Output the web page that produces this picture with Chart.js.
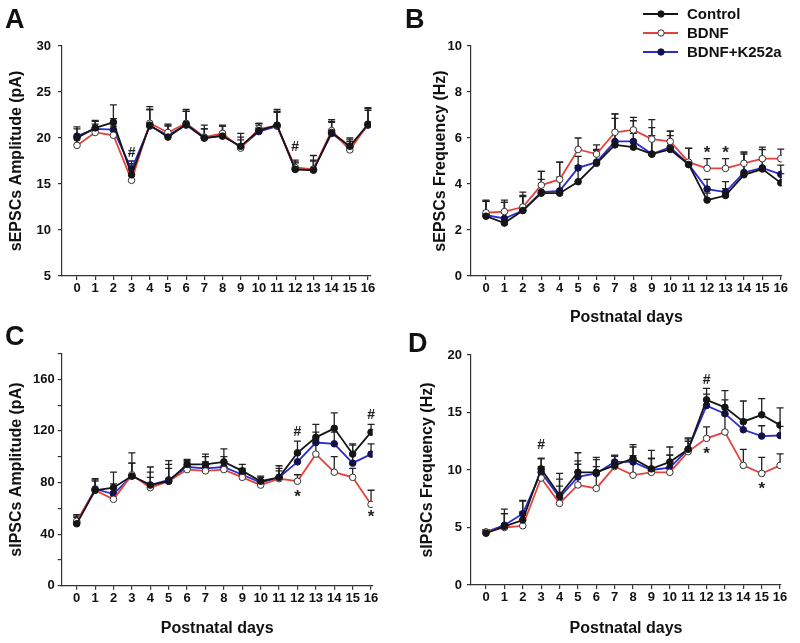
<!DOCTYPE html>
<html><head><meta charset="utf-8">
<script src="https://cdn.jsdelivr.net/npm/chart.js@4/dist/chart.umd.min.js"></script>
<style>
body{margin:0;background:#fff;width:800px;height:643px;position:relative;overflow:hidden;}
canvas{position:absolute;}
.lbl{position:absolute;font:bold 27px "Liberation Sans",Arial,sans-serif;color:#111;line-height:1;}
</style></head><body>
<canvas id="cA" width="400" height="320" style="left:0;top:0"></canvas>
<canvas id="cB" width="400" height="330" style="left:400px;top:0"></canvas>
<canvas id="cC" width="400" height="323" style="left:0;top:320px"></canvas>
<canvas id="cD" width="400" height="323" style="left:400px;top:320px"></canvas>
<div class="lbl" style="left:5px;top:6px">A</div>
<div class="lbl" style="left:405px;top:6px">B</div>
<div class="lbl" style="left:5px;top:323px">C</div>
<div class="lbl" style="left:408px;top:330px">D</div>
<script>
const days = [0,1,2,3,4,5,6,7,8,9,10,11,12,13,14,15,16];
const seriesNames = ['Control','BDNF','BDNF+K252a'];

// Panel A: sEPSCs amplitude (pA)
const ctrlA = [20.0,21.1,21.7,16.0,21.4,20.1,21.5,20.0,20.2,19.1,20.8,21.4,16.6,16.5,20.6,19.1,21.5];
const bdnfA = [19.2,20.6,20.3,15.4,21.6,20.6,21.6,20.1,20.5,18.9,21.0,21.3,16.8,16.6,20.8,18.7,21.5];
const kA    = [20.2,21.0,20.9,16.6,21.3,20.3,21.4,20.0,20.3,19.0,20.7,21.3,16.6,16.6,20.5,19.0,21.4];
const ctrlAErr = [1.2,0.8,1.9,1.2,2.0,1.3,1.6,1.4,1.2,1.4,0.8,1.7,1.0,1.6,1.4,0.9,1.8];
const bdnfAErr = [1.0,0.9,1.0,1.0,1.5,0.9,1.3,0.9,0.8,0.9,0.6,1.6,0.6,0.9,1.0,0.9,1.7];
const kAErr    = [0.8,0.8,1.2,0.9,1.8,1.0,1.5,1.0,1.0,1.1,0.7,1.5,0.7,1.0,1.2,0.8,1.6];
const yTicksA = [5,10,15,20,25,30];
const marksA = [{x:3,y:18.3,s:'#'},{x:12,y:19.0,s:'#'}];

// Panel B: sEPSCs frequency (Hz)
const ctrlB = [2.6,2.3,2.85,3.6,3.6,4.1,4.9,5.7,5.6,5.3,5.5,4.85,3.3,3.5,4.4,4.65,4.05];
const bdnfB = [2.75,2.8,3.0,3.95,4.2,5.5,5.3,6.25,6.35,5.95,5.85,4.95,4.68,4.68,4.9,5.1,5.1];
const kB    = [2.65,2.5,2.85,3.65,3.7,4.7,4.95,5.85,5.85,5.3,5.6,4.85,3.78,3.65,4.5,4.7,4.42];
const ctrlBErr = [0.7,0.9,0.6,0.6,0.7,0.7,0.6,1.35,0.6,1.5,0.6,0.7,0.3,0.3,0.9,0.5,0.4];
const bdnfBErr = [0.5,0.5,0.5,0.6,0.75,0.5,0.4,0.8,0.55,0.5,0.45,0.6,0.42,0.42,0.5,0.5,0.42];
const kBErr    = [0.6,0.7,0.8,0.9,1.25,0.5,0.5,1.0,0.9,0.8,0.7,0.7,0.42,0.45,0.85,0.8,0.4];
const yTicksB = [0,2,4,6,8,10];
const marksB = [{x:12,y:5.45,s:'*'},{x:13,y:5.45,s:'*'}];

// Panel C: sIPSCs amplitude (pA)
const ctrlC = [48,74,76,85,78,81,94,94,96,89,81,84,103,115,122,102,119];
const bdnfC = [50,74,67,86,76,81,90,89,90,84,78,83,81,102,88,84,63];
const kC    = [49,75,71,85,78,82,92,91,92,86,80,84,96,111,110,95,102];
const ctrlCErr = [6,8,12,18,14,16,4,8,10,5,4,9,9,10,12,8,6];
const bdnfCErr = [5,7,6,9,8,10,6,7,6,5,4,6,5,11,12,7,11];
const kCErr    = [4,8,8,10,10,12,5,9,8,5,4,7,6,8,9,14,8];
const yTicksC = [0,20,40,60,80,100,120,140,160,180];
const yLabelsC = [0,40,80,120,160];
const marksC = [{x:12,y:119,s:'#'},{x:12,y:71,s:'*'},{x:16,y:132,s:'#'},{x:16,y:55,s:'*'}];

// Panel D: sIPSCs frequency (Hz)
const ctrlD = [4.5,5.1,5.65,10.1,7.8,9.8,9.8,10.4,11.0,10.1,10.7,11.8,16.1,15.45,14.2,14.8,13.9];
const bdnfD = [4.6,5.0,5.15,9.3,7.1,8.7,8.4,10.3,9.55,9.8,9.8,11.6,12.75,13.3,10.4,9.7,10.4];
const kD    = [4.6,5.2,6.2,9.8,7.6,9.4,9.7,10.7,10.7,10.0,10.2,11.8,15.6,14.9,13.5,12.95,13.0];
const ctrlDErr = [0.3,1.5,1.7,0.9,1.9,1.7,1.3,0.8,1.2,1.6,1.3,1.0,1.0,1.45,1.8,1.4,1.5];
const bdnfDErr = [0.2,1.2,1.2,1.0,1.5,1.8,1.9,0.9,1.7,1.2,1.5,0.9,1.0,1.5,1.4,1.4,1.0];
const kDErr    = [0.2,1.0,1.1,1.2,1.6,1.4,1.2,0.6,1.3,1.0,1.1,0.9,1.0,1.2,0.9,0.9,0.8];
const yTicksD = [0,5,10,15,20];
const marksD = [{x:3,y:12.2,s:'#'},{x:12,y:17.8,s:'#'},{x:12,y:11.6,s:'*'},{x:15,y:8.6,s:'*'}];

Chart.defaults.font.family = '"Liberation Sans", Arial, sans-serif';
Chart.defaults.color = '#111';

const styles = [
  {borderColor:'#151515', pointBackgroundColor:'#151515', pointBorderColor:'#151515'},
  {borderColor:'#e8413a', pointBackgroundColor:'#ffffff', pointBorderColor:'#333333'},
  {borderColor:'#2b2bd0', pointBackgroundColor:'#12124a', pointBorderColor:'#12124a'}
];

const errPlugin = {
  id:'errbars',
  beforeDatasetsDraw(chart){
    const ctx = chart.ctx, xs = chart.scales.x, ys = chart.scales.y;
    ctx.save();
    ctx.strokeStyle = '#222'; ctx.lineWidth = 1.3;
    chart.data.datasets.forEach(ds => {
      ds.data.forEach((p,i) => {
        const e = ds.errors[i];
        const px = xs.getPixelForValue(p.x);
        const y0 = ys.getPixelForValue(p.y), y1 = ys.getPixelForValue(p.y + e);
        ctx.beginPath();
        ctx.moveTo(px, y0); ctx.lineTo(px, y1);
        ctx.moveTo(px-3.5, y1); ctx.lineTo(px+3.5, y1);
        ctx.stroke();
      });
    });
    ctx.restore();
  }
};
const markPlugin = {
  id:'marks',
  afterDatasetsDraw(chart, args, opts){
    const ctx = chart.ctx, xs = chart.scales.x, ys = chart.scales.y;
    ctx.save();
    ctx.fillStyle = '#222';
    ctx.textAlign = 'center'; ctx.textBaseline = 'middle';
    (opts.marks || []).forEach(m => {
      ctx.font = (m.s === '*' ? 'bold 17px' : 'bold 14px') + ' "Liberation Sans", Arial, sans-serif';
      ctx.fillText(m.s, xs.getPixelForValue(m.x), ys.getPixelForValue(m.y) + (m.s === '*' ? 3 : 0));
    });
    ctx.restore();
  }
};
const legendPlugin = {
  id:'customLegend',
  afterDraw(chart, args, opts){
    if (!opts.show) return;
    const ctx = chart.ctx;
    ctx.save();
    const rows = [14, 33, 52];
    chart.data.datasets.forEach((ds, i) => {
      const y = rows[i];
      ctx.strokeStyle = ds.borderColor; ctx.lineWidth = 1.8;
      ctx.beginPath(); ctx.moveTo(243, y); ctx.lineTo(278, y); ctx.stroke();
      ctx.beginPath(); ctx.arc(261, y, 3.2, 0, Math.PI*2);
      ctx.fillStyle = ds.pointBackgroundColor; ctx.fill();
      ctx.strokeStyle = ds.pointBorderColor; ctx.lineWidth = 1; ctx.stroke();
      ctx.fillStyle = '#111';
      ctx.font = 'bold 15px "Liberation Sans", Arial, sans-serif';
      ctx.textAlign = 'left'; ctx.textBaseline = 'middle';
      ctx.fillText(ds.label, 287, y + 1);
    });
    ctx.restore();
  }
};

function makePanel(id, c){
  const series = [c.ctrl, c.bdnf, c.k];
  const errs = [c.ctrlErr, c.bdnfErr, c.kErr];
  const datasets = series.map((vals, s) => Object.assign({
    label: seriesNames[s],
    data: days.map((d, i) => ({x:d, y:vals[i]})),
    errors: errs[s],
    borderWidth: 1.8,
    pointRadius: 3.3,
    pointBorderWidth: 1,
    tension: 0
  }, styles[s]));
  new Chart(document.getElementById(id), {
    type:'line',
    data:{datasets},
    options:{
      responsive:false, animation:false,
      layout:{padding:{left:c.padL, right:c.padR, top:c.padT, bottom:c.padB}},
      plugins:{legend:{display:false}, tooltip:{enabled:false},
        marks:{marks:c.marks}, customLegend:{show:!!c.legend}},
      scales:{
        x:{type:'linear', min:c.xMin, max:c.xMax,
          afterBuildTicks: s => { s.ticks = days.map(v => ({value:v})); },
          afterFit: s => { s.height = c.xH; },
          ticks:{autoSkip:false, maxRotation:0, minRotation:0, padding:1, color:'#111',
            font:{size:13, weight:'bold'}},
          grid:{drawOnChartArea:false, tickLength:4, color:'#333', lineWidth:1.2},
          border:{color:'#333', width:1.2},
          title:{display:!!c.xTitle, text:'Postnatal days', padding:0, color:'#111',
            font:{size:16, weight:'bold'}}
        },
        y:{type:'linear', min:c.yMin, max:c.yMax,
          afterBuildTicks: s => { s.ticks = c.yTicks.map(v => ({value:v})); },
          afterFit: s => { s.width = c.yW; },
          ticks:{padding:c.yPad, color:'#111', font:{size:13, weight:'bold'},
            callback: v => (c.yLabels ? (c.yLabels.includes(v) ? String(v) : '') : String(v))},
          grid:{drawOnChartArea:false, tickLength:4, color:'#333', lineWidth:1.2},
          border:{color:'#333', width:1.2},
          title:{display:true, text:c.yTitle, padding:0, color:'#111',
            font:{size:16, weight:'bold'}}
        }
      }
    },
    plugins:[errPlugin, markPlugin, legendPlugin]
  });
}

makePanel('cA', {ctrl:ctrlA, bdnf:bdnfA, k:kA, ctrlErr:ctrlAErr, bdnfErr:bdnfAErr, kErr:kAErr,
  yTicks:yTicksA, yMin:5, yMax:30, yTitle:'sEPSCs Amplitude (pA)', marks:marksA,
  padL:7.4, padR:29, padT:46, padB:0, yW:54.6, xH:44, yPad:7,
  xMin:-0.825, xMax:16.165, xTitle:false});
makePanel('cB', {ctrl:ctrlB, bdnf:bdnfB, k:kB, ctrlErr:ctrlBErr, bdnfErr:bdnfBErr, kErr:kBErr,
  yTicks:yTicksB, yMin:0, yMax:10, yTitle:'sEPSCs Frequency (Hz)', marks:marksB, legend:true,
  padL:31.4, padR:18.3, padT:46, padB:2.4, yW:39.6, xH:51.6, yPad:5,
  xMin:-0.814, xMax:16.05, xTitle:true});
makePanel('cC', {ctrl:ctrlC, bdnf:bdnfC, k:kC, ctrlErr:ctrlCErr, bdnfErr:bdnfCErr, kErr:kCErr,
  yTicks:yTicksC, yLabels:yLabelsC, yMin:0, yMax:180, yTitle:'sIPSCs Amplitude (pA)', marks:marksC,
  padL:7.4, padR:27.3, padT:33.5, padB:5.1, yW:54.3, xH:52.2, yPad:3,
  xMin:-0.816, xMax:16.09, xTitle:true});
makePanel('cD', {ctrl:ctrlD, bdnf:bdnfD, k:kD, ctrlErr:ctrlDErr, bdnfErr:bdnfDErr, kErr:kDErr,
  yTicks:yTicksD, yMin:0, yMax:20, yTitle:'sIPSCs Frequency (Hz)', marks:marksD,
  padL:18.4, padR:19, padT:35, padB:5.1, yW:52.6, xH:52.9, yPad:5,
  xMin:-0.816, xMax:16.05, xTitle:true});
</script>
</body></html>
